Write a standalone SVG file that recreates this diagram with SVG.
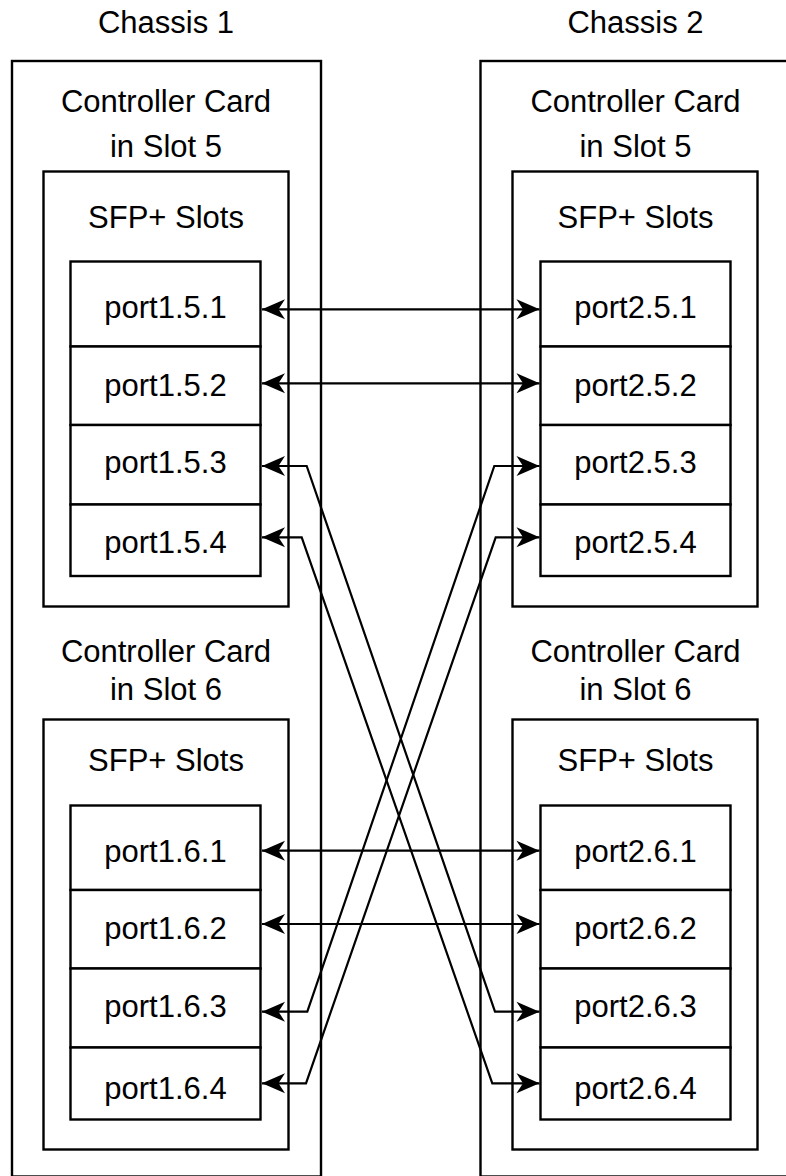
<svg xmlns="http://www.w3.org/2000/svg" width="786" height="1176" viewBox="0 0 786 1176">
<style>
.box{fill:none;stroke:#000;stroke-width:2.4}
.port{fill:#fff;stroke:#000;stroke-width:2.4}
.t{font-family:"Liberation Sans",Arial,Helvetica,sans-serif;font-size:31px;fill:#000;text-anchor:middle}
.c{fill:none;stroke:#000;stroke-width:2.2}
</style>
<defs>
<marker id="ah" markerUnits="userSpaceOnUse" orient="auto-start-reverse" overflow="visible" refX="0" refY="0" markerWidth="26" markerHeight="22">
<path d="M0,0 L-23,-10 L-16.5,0 L-23,10 Z" fill="#000"/>
</marker>
</defs>
<rect width="786" height="1176" fill="#fff"/>

<g id="chassis1">
<text class="t" x="166" y="33">Chassis 1</text>
<rect class="box" x="12" y="61" width="309" height="1115.5"/>
</g>
<g id="chassis2">
<text class="t" x="635.5" y="33">Chassis 2</text>
<rect class="box" x="480.5" y="61" width="309" height="1115.5"/>
</g>

<g id="card-1-5">
<text class="t" x="166" y="111.7">Controller Card</text>
<text class="t" x="166" y="156.7">in Slot 5</text>
<rect class="box" x="43.5" y="171.5" width="245" height="435"/>
<text class="t" x="166" y="227.7">SFP+ Slots</text>
</g>
<g id="card-1-6">
<text class="t" x="166" y="661.7">Controller Card</text>
<text class="t" x="166" y="700">in Slot 6</text>
<rect class="box" x="43.5" y="719.5" width="245" height="430"/>
<text class="t" x="166" y="770.7">SFP+ Slots</text>
</g>
<g id="card-2-5">
<text class="t" x="635.5" y="111.7">Controller Card</text>
<text class="t" x="635.5" y="156.7">in Slot 5</text>
<rect class="box" x="512.5" y="171.5" width="245" height="435"/>
<text class="t" x="635.5" y="227.7">SFP+ Slots</text>
</g>
<g id="card-2-6">
<text class="t" x="635.5" y="661.7">Controller Card</text>
<text class="t" x="635.5" y="700">in Slot 6</text>
<rect class="box" x="512.5" y="719.5" width="245" height="430"/>
<text class="t" x="635.5" y="770.7">SFP+ Slots</text>
</g>

<g id="port-1-5-1"><rect class="port" x="70.5" y="261.5" width="190" height="85"/><text class="t" x="165.5" y="318.3">port1.5.1</text></g>
<g id="port-1-5-2"><rect class="port" x="70.5" y="346.5" width="190" height="78.5"/><text class="t" x="165.5" y="395.7">port1.5.2</text></g>
<g id="port-1-5-3"><rect class="port" x="70.5" y="425" width="190" height="79.5"/><text class="t" x="165.5" y="472.7">port1.5.3</text></g>
<g id="port-1-5-4"><rect class="port" x="70.5" y="504.5" width="190" height="71.5"/><text class="t" x="165.5" y="553.3">port1.5.4</text></g>

<g id="port-1-6-1"><rect class="port" x="70.5" y="805.5" width="190" height="84.5"/><text class="t" x="165.5" y="861.7">port1.6.1</text></g>
<g id="port-1-6-2"><rect class="port" x="70.5" y="890" width="190" height="78.5"/><text class="t" x="165.5" y="939.3">port1.6.2</text></g>
<g id="port-1-6-3"><rect class="port" x="70.5" y="968.5" width="190" height="79"/><text class="t" x="165.5" y="1016.7">port1.6.3</text></g>
<g id="port-1-6-4"><rect class="port" x="70.5" y="1047.5" width="190" height="72"/><text class="t" x="165.5" y="1099.3">port1.6.4</text></g>

<g id="port-2-5-1"><rect class="port" x="540.5" y="261.5" width="190" height="85"/><text class="t" x="635.5" y="318.3">port2.5.1</text></g>
<g id="port-2-5-2"><rect class="port" x="540.5" y="346.5" width="190" height="78.5"/><text class="t" x="635.5" y="395.7">port2.5.2</text></g>
<g id="port-2-5-3"><rect class="port" x="540.5" y="425" width="190" height="79.5"/><text class="t" x="635.5" y="472.7">port2.5.3</text></g>
<g id="port-2-5-4"><rect class="port" x="540.5" y="504.5" width="190" height="71.5"/><text class="t" x="635.5" y="553.3">port2.5.4</text></g>

<g id="port-2-6-1"><rect class="port" x="540.5" y="805.5" width="190" height="84.5"/><text class="t" x="635.5" y="861.7">port2.6.1</text></g>
<g id="port-2-6-2"><rect class="port" x="540.5" y="890" width="190" height="78.5"/><text class="t" x="635.5" y="939.3">port2.6.2</text></g>
<g id="port-2-6-3"><rect class="port" x="540.5" y="968.5" width="190" height="79"/><text class="t" x="635.5" y="1016.7">port2.6.3</text></g>
<g id="port-2-6-4"><rect class="port" x="540.5" y="1047.5" width="190" height="72"/><text class="t" x="635.5" y="1099.3">port2.6.4</text></g>

<g id="connectors">
<path class="c" d="M262,309.3 H539.5" marker-start="url(#ah)" marker-end="url(#ah)"/>
<path class="c" d="M262,383.3 H539.5" marker-start="url(#ah)" marker-end="url(#ah)"/>
<path class="c" d="M262,850.7 H539.5" marker-start="url(#ah)" marker-end="url(#ah)"/>
<path class="c" d="M262,924 H539.5" marker-start="url(#ah)" marker-end="url(#ah)"/>
<path class="c" d="M262,466 H306.7 L495,1011.7 H539.5" marker-start="url(#ah)" marker-end="url(#ah)"/>
<path class="c" d="M262,537.3 H301.7 L492.3,1083.3 H539.5" marker-start="url(#ah)" marker-end="url(#ah)"/>
<path class="c" d="M262,1011.7 H307.3 L494.3,466 H539.5" marker-start="url(#ah)" marker-end="url(#ah)"/>
<path class="c" d="M262,1083.3 H306 L495.7,537.3 H539.5" marker-start="url(#ah)" marker-end="url(#ah)"/>
</g>
</svg>
